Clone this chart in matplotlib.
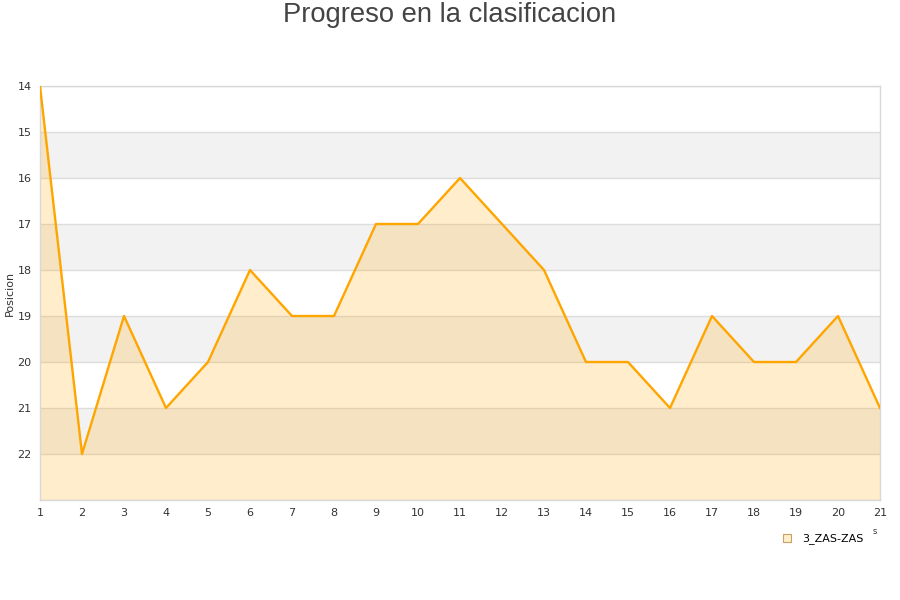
import matplotlib
matplotlib.use("Agg")
import matplotlib.pyplot as plt
from matplotlib.lines import Line2D

jornadas = list(range(1, 22))
posiciones = [14, 22, 19, 21, 20, 18, 19, 19, 17, 17, 16, 17, 18, 20, 20, 21, 19, 20, 20, 19, 21]
equipo = "3_ZAS-ZAS"
titulo = "Progreso en la clasificacion"
ytick_vals = list(range(14, 23))

fig = plt.figure(figsize=(9, 6), dpi=100)
ax = fig.add_axes([40/900, 100/600, 840/900, 414/600])

ax.set_xlim(1, 21)
ax.set_ylim(23, 14)

# alternating bands
for y in range(15, 23, 2):
    ax.axhspan(y, y + 1, color="#f2f2f2", zorder=0, lw=0)
for y in range(14, 24):
    ax.axhline(y, color="#dddddd", lw=1, zorder=1)

ax.fill_between(jornadas, posiciones, 23, color="#ffa500", alpha=0.2, lw=0, zorder=2)
ax.plot(jornadas, posiciones, color="#ffa500", lw=1.7, zorder=3)

ax.set_xticks(jornadas)
ax.set_yticks(ytick_vals)
ax.tick_params(length=0, labelsize=8, colors="#333333")
ax.tick_params(axis="x", pad=6)
ax.tick_params(axis="y", pad=6)
for s in ax.spines.values():
    s.set_color("#d8d8d8")
    s.set_linewidth(1)

ax.set_ylabel("Posicion", fontsize=8, color="#333333", labelpad=2)

fig.text(0.5, 0.975, titulo, ha="center", va="center", fontsize=19.7, color="#444444",
         family="Liberation Sans")

fig.text(875/900, 1 - 531/600, "s", fontsize=6, color="#333333", ha="center", va="center")

handle = Line2D([], [], marker="s", linestyle="none", markersize=6,
                markerfacecolor="#ffeecc", markeredgecolor="#c9a060", markeredgewidth=0.8)
fig.legend([handle], [equipo], loc="center", bbox_to_anchor=(820/900, 1 - 539/600),
           frameon=False, fontsize=8, handletextpad=0.4, borderpad=0)

fig.savefig("out.png", dpi=100)
